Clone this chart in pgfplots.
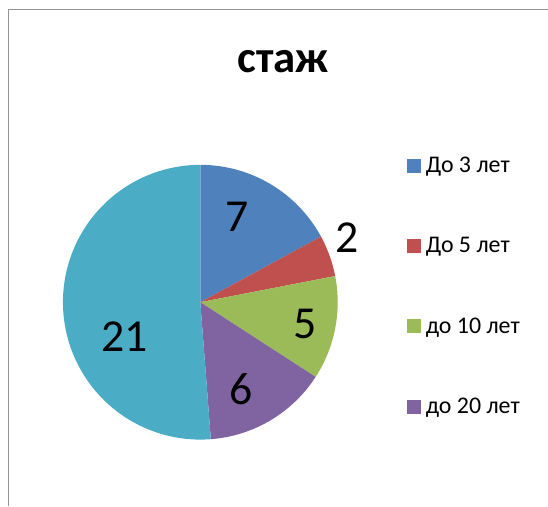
\documentclass[border=0pt]{standalone}
\usepackage{pgfplots}
\pgfplotsset{compat=1.18}
\usepackage{pgfplotstable}
\usepackage{fontspec}
\setmainfont{Carlito}
\definecolor{cA}{HTML}{4F81BD}
\definecolor{cB}{HTML}{C0504D}
\definecolor{cC}{HTML}{9BBB59}
\definecolor{cD}{HTML}{8064A2}
\definecolor{cE}{HTML}{4BACC6}
\def\slicecolor#1{\ifcase#1 cA\or cB\or cC\or cD\or cE\fi}
% value, label centre x, label baseline y (pixels from top)
\pgfplotstableread{
value lx ly
7 237.5 232
2 347.5 253
5 305.5 339
6 241 405
21 124.5 352
}\piedata
\begin{document}
\begin{tikzpicture}
\begin{axis}[
  scale only axis, width=548bp, height=506bp,
  xmin=0, xmax=548, ymin=0, ymax=506,
  axis lines=none, clip=false,
]
\path (0,0) rectangle (548,506);
% frame
\draw[color=black!42, line width=1bp] (9,0) -- (9,496) -- (548,496);
% title
\node[anchor=base, font=\bfseries\fontsize{45}{52}\selectfont] at (283.5,433) {стаж};
% total
\def\total{0}
\pgfplotsforeachungrouped \i in {0,...,4}{%
  \pgfplotstablegetelem{\i}{value}\of\piedata
  \pgfmathsetmacro\total{\total+\pgfplotsretval}%
  \global\let\total\total
}
\def\cum{0}
\pgfplotsforeachungrouped \i in {0,...,4}{%
  \pgfplotstablegetelem{\i}{value}\of\piedata
  \let\v\pgfplotsretval
  \pgfplotstablegetelem{\i}{lx}\of\piedata
  \let\lx\pgfplotsretval
  \pgfplotstablegetelem{\i}{ly}\of\piedata
  \pgfmathsetmacro\yy{506-\pgfplotsretval}%
  \pgfmathsetmacro\s{\cum/\total*360}%
  \pgfmathsetmacro\cum{\cum+\v}%
  \global\let\cum\cum
  \pgfmathsetmacro\e{\cum/\total*360}%
  \edef\cmd{\noexpand\addplot[draw=none, fill=\slicecolor{\i}, domain=\s:\e, samples=120]
    ({200.5+137.5*sin(x)},{203.5+137.5*cos(x)}) -- (200.5,203.5) -- cycle;
    \noexpand\node[anchor=base, font=\noexpand\fontsize{46}{50}\noexpand\selectfont] at (\lx,\yy) {\v};}%
  \cmd
}
% legend
\fill[cA] (407,333) rectangle (421,347);
\node[anchor=base west, font=\fontsize{24}{28}\selectfont, inner sep=0pt] at (426,333) {До 3 лет};
\fill[cB] (407,253) rectangle (421,267);
\node[anchor=base west, font=\fontsize{24}{28}\selectfont, inner sep=0pt] at (426,253) {До 5 лет};
\fill[cC] (407,172.5) rectangle (421,186.5);
\node[anchor=base west, font=\fontsize{24}{28}\selectfont, inner sep=0pt] at (426,172.5) {до 10 лет};
\fill[cD] (407,92) rectangle (421,106);
\node[anchor=base west, font=\fontsize{24}{28}\selectfont, inner sep=0pt] at (426,92) {до 20 лет};
\end{axis}
\end{tikzpicture}
\end{document}
